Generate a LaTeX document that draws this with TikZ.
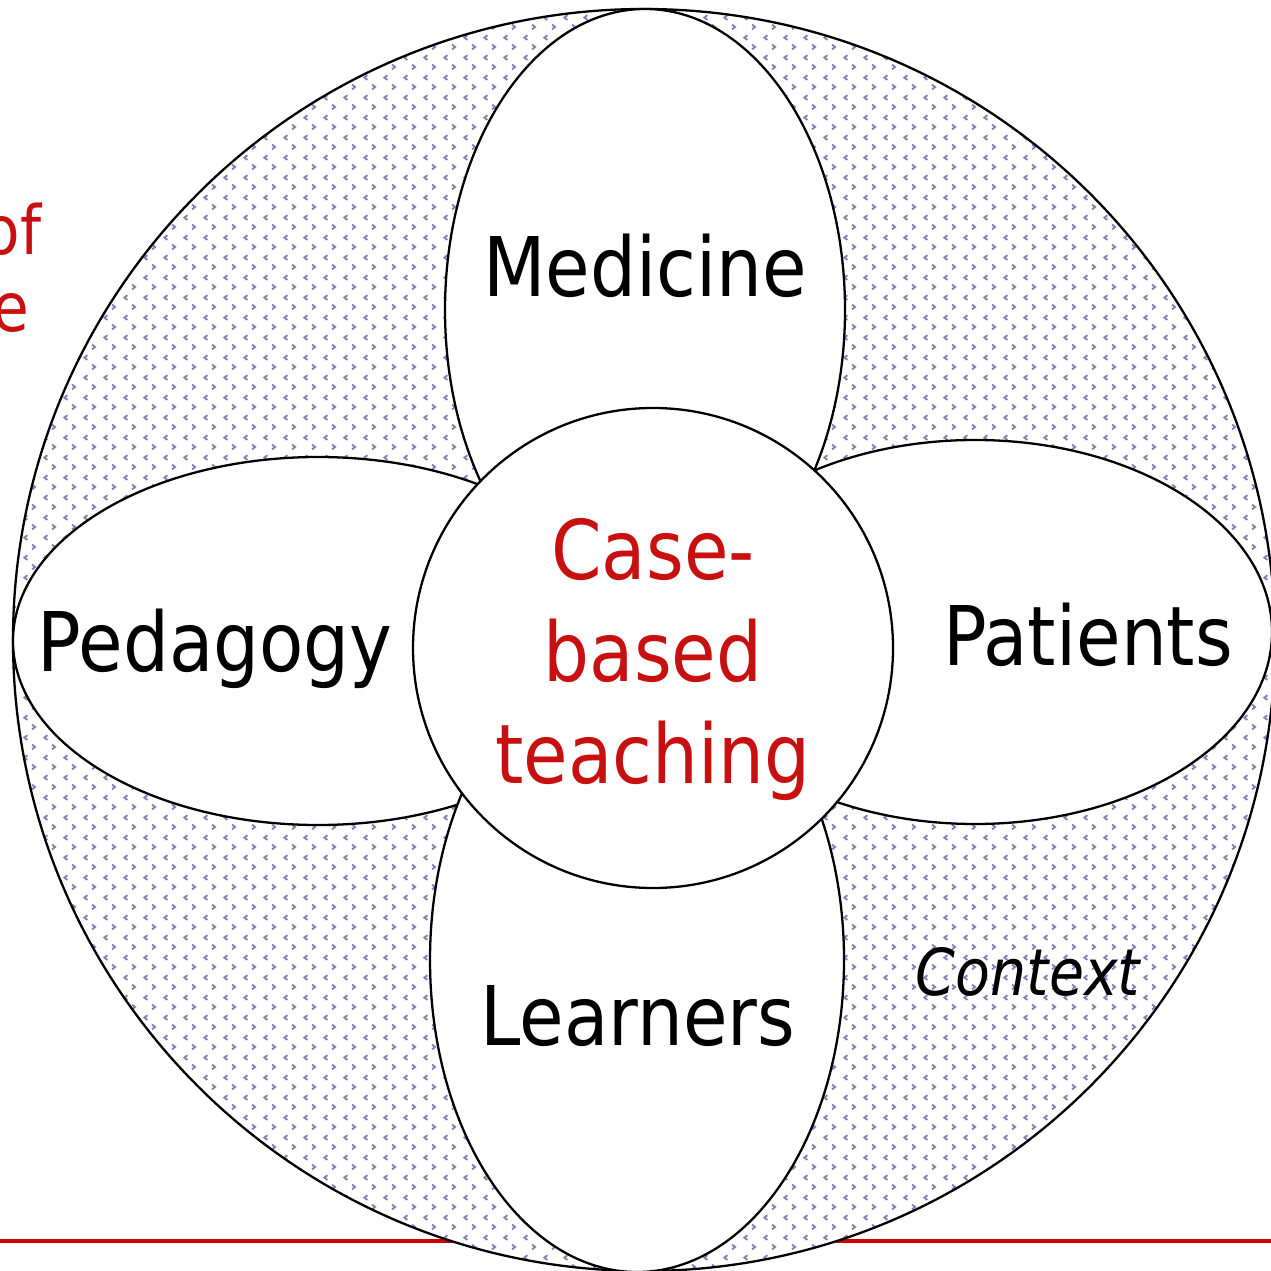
\documentclass[tikz,border=0pt]{standalone}
\usepackage{fontspec}
\setmainfont{DejaVu Sans}[FakeStretch=0.88]
\usetikzlibrary{patterns}

\definecolor{casered}{RGB}{200,16,16}
\definecolor{rulered}{RGB}{204,0,0}
\definecolor{dotblue}{RGB}{128,128,184}

\pgfdeclarepatternformonly{chevrons}{\pgfqpoint{0pt}{0pt}}{\pgfqpoint{5.69pt}{5.69pt}}{\pgfqpoint{5.69pt}{5.69pt}}{
  \pgfsetlinewidth{0.55pt}
  \pgfpathmoveto{\pgfqpoint{2.2pt}{5.0pt}}
  \pgfpathlineto{\pgfqpoint{1.3pt}{4.3pt}}
  \pgfpathlineto{\pgfqpoint{2.2pt}{3.6pt}}
  \pgfpathmoveto{\pgfqpoint{3.6pt}{2.2pt}}
  \pgfpathlineto{\pgfqpoint{4.5pt}{1.5pt}}
  \pgfpathlineto{\pgfqpoint{3.6pt}{0.8pt}}
  \pgfusepath{stroke}
}

\tikzset{
  petal/.style={draw=black, fill=white, line width=0.65pt},
  petaltext/.style={font=\fontsize{23.4}{29}\selectfont, inner sep=0pt},
}

\begin{document}
\begin{tikzpicture}[x=0.01cm, y=-0.01cm]
  \useasboundingbox (0,0) rectangle (1271,1271);

  % slide rule behind the diagram
  \coordinate (ruleL) at (0,1241);
  \coordinate (ruleR) at (1271,1241);
  \draw[rulered, line width=1.2pt] (ruleL) -- (ruleR);

  % context circle
  \fill[white] (644,640) circle [radius=631];
  \fill[pattern=chevrons, pattern color=dotblue] (644,640) circle [radius=631];
  \draw[line width=0.65pt] (644,640) circle [radius=631];

  % four petals and the core
  \foreach \cx/\cy/\rx/\ry in {645/310/200/301, 318/641/305/184, 975/632/297/192, 637/960/207/312}
    \draw[petal] (\cx,\cy) ellipse [x radius=\rx, y radius=\ry];
  \draw[petal] (653,648) circle [radius=240];

  \node[petaltext, anchor=base] (medicine) at (645,297) {Medicine};
  \node[petaltext, anchor=base] (pedagogy) at (215,672) {Pedagogy};
  \node[petaltext, anchor=base] (patients) at (1088,666) {Patients};
  \node[petaltext, anchor=base] (learners) at (638,1045) {Learners};
  \node[petaltext, text=casered, align=center] (core) at (653,660) {Case-\\based\\teaching};

  \node[font=\fontsize{18.4}{22}\selectfont\itshape, inner sep=0pt, anchor=base] (context) at (1028,995) {Context};

  % cut-off slide text
  \node[text=casered, font=\fontsize{19.3}{23}\selectfont, inner sep=0pt, anchor=base east] (slideA) at (42,255) {of};
  \node[text=casered, font=\fontsize{19.3}{23}\selectfont, inner sep=0pt, anchor=base east] (slideB) at (30,332) {e};
\end{tikzpicture}
\end{document}
